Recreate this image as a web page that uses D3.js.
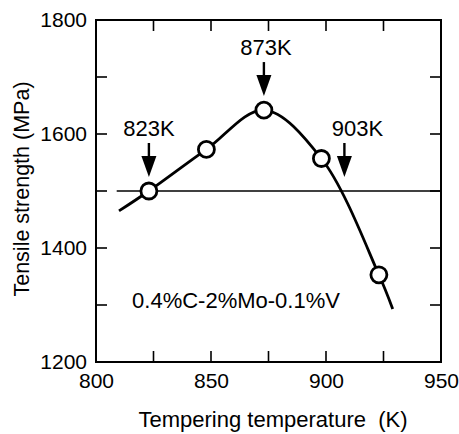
<!DOCTYPE html>
<html><head><meta charset="utf-8">
<script src="https://cdn.jsdelivr.net/npm/d3@7"></script>
<style>body{margin:0;background:#fff}svg{display:block}text{font-family:Arial,"Liberation Sans",Helvetica,sans-serif;fill:#000;white-space:pre}</style>
</head><body>
<script>
// data
const tempK = [823, 848, 873, 898, 923];
const strength = [1500, 1573, 1642, 1557, 1353];
const curveT = [810, 823, 848, 873, 898, 923, 929];
const curveS = [1465, 1500, 1573, 1642, 1557, 1353, 1293];
const refLevel = 1500;
const refStartT = 809;
const xTicks = [800, 850, 900, 950];
const xMinor = [825, 850, 875, 900, 925];
const yTicks = [1200, 1400, 1600, 1800];
const yMinor = [1300, 1400, 1500, 1600, 1700];
const arrowLabels = ["823K", "873K", "903K"];
const arrowT = [823, 873, 908];
const arrowS = [1500, 1642, 1500];
const alloyLabel = "0.4%C-2%Mo-0.1%V";
const xTitle = "Tempering temperature  (K)";
const yTitle = "Tensile strength (MPa)";

const W = 459, H = 434;
const L = 96, R = 441, T = 20, B = 362;
const svg = d3.select("body").append("svg").attr("width", W).attr("height", H);
const x = d3.scaleLinear().domain([800, 950]).range([L, R]);
const y = d3.scaleLinear().domain([1200, 1800]).range([B, T]);

// minor ticks (inward)
const tk = 11;
const g = svg.append("g").attr("stroke", "#000").attr("stroke-width", 1.6);
xMinor.forEach(v => {
  g.append("line").attr("x1", x(v)).attr("x2", x(v)).attr("y1", B).attr("y2", B - tk);
  g.append("line").attr("x1", x(v)).attr("x2", x(v)).attr("y1", T).attr("y2", T + tk);
});
yMinor.forEach(v => {
  g.append("line").attr("x1", L).attr("x2", L + tk).attr("y1", y(v)).attr("y2", y(v));
  g.append("line").attr("x1", R).attr("x2", R - tk).attr("y1", y(v)).attr("y2", y(v));
});
// frame
svg.append("rect").attr("x", L).attr("y", T).attr("width", R - L).attr("height", B - T)
  .attr("fill", "none").attr("stroke", "#000").attr("stroke-width", 2);

// axes labels via d3 axes
const xa = svg.append("g").attr("transform", `translate(0,${B})`)
  .call(d3.axisBottom(x).tickValues(xTicks).tickSize(0).tickPadding(10).tickFormat(d3.format("d")));
xa.select(".domain").remove();
xa.selectAll("text").attr("font-size", 21).attr("font-family", "Arial, Liberation Sans, sans-serif").attr("dy", "0.72em").attr("y", 11);
const ya = svg.append("g").attr("transform", `translate(${L},0)`)
  .call(d3.axisLeft(y).tickValues(yTicks).tickSize(0).tickPadding(9).tickFormat(d3.format("d")));
ya.select(".domain").remove();
ya.selectAll("text").attr("font-size", 21).attr("font-family", "Arial, Liberation Sans, sans-serif");

// titles
svg.append("text").attr("x", 273).attr("y", 427).attr("text-anchor", "middle")
  .attr("font-size", 22).text(xTitle);
svg.append("text").attr("transform", `translate(29,${(T + B) / 2 - 2}) rotate(-90)`)
  .attr("text-anchor", "middle").attr("font-size", 21.5).text(yTitle);

// reference line
svg.append("line").attr("x1", x(refStartT)).attr("x2", R).attr("y1", y(refLevel)).attr("y2", y(refLevel))
  .attr("stroke", "#000").attr("stroke-width", 1.6);

// curve
const line = d3.line().x(d => x(d[0])).y(d => y(d[1])).curve(d3.curveCatmullRom.alpha(0.5));
svg.append("path").datum(curveT.map((t, i) => [t, curveS[i]])).attr("d", line)
  .attr("fill", "none").attr("stroke", "#000").attr("stroke-width", 2.8);

// points
svg.selectAll("circle.pt").data(tempK.map((t, i) => [t, strength[i]])).join("circle")
  .attr("cx", d => x(d[0])).attr("cy", d => y(d[1])).attr("r", 8)
  .attr("fill", "#fff").attr("stroke", "#000").attr("stroke-width", 2.8);

// arrows
const textDx = [0, 2, 13];
arrowT.forEach((t, i) => {
  const ax = x(t), tip = y(arrowS[i]) - 14;
  svg.append("line").attr("x1", ax).attr("x2", ax).attr("y1", tip - 34).attr("y2", tip - 18)
    .attr("stroke", "#000").attr("stroke-width", 2.4);
  svg.append("path").attr("d", `M${ax - 7.5},${tip - 21}L${ax + 7.5},${tip - 21}L${ax},${tip}Z`).attr("fill", "#000");
  svg.append("text").attr("x", ax + textDx[i]).attr("y", tip - 41).attr("text-anchor", "middle")
    .attr("font-size", 22).text(arrowLabels[i]);
});

// alloy label
svg.append("text").attr("x", 236).attr("y", 308).attr("text-anchor", "middle").attr("font-size", 22).text(alloyLabel);
</script>
</body></html>
